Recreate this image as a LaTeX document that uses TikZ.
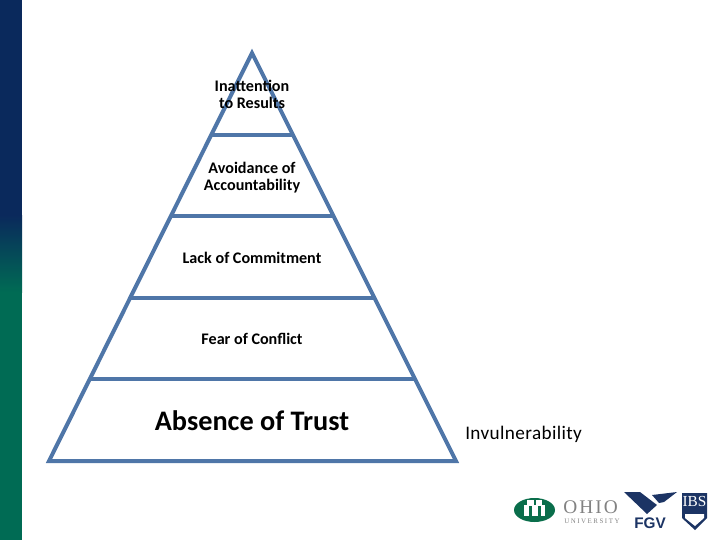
\documentclass[tikz,border=0pt]{standalone}
\usepackage{fontspec}
\setmainfont{Carlito}
\newfontfamily\logoserif{Liberation Serif}
\newfontfamily\logosans{Liberation Sans}
\usepackage{xcolor}
\usetikzlibrary{
  positioning,
  calc
}
\definecolor{pyramidblue}{RGB}{79,118,168}
\definecolor{barnavy}{RGB}{10,41,92}
\definecolor{bargreen}{RGB}{0,107,84}
\definecolor{logogreen}{RGB}{10,110,75}
\definecolor{logonavy}{RGB}{28,52,100}
\definecolor{logogray}{RGB}{130,130,130}

\begin{document}
\begin{tikzpicture}[
  x=0.75pt,y=-0.75pt,
  wall/.style={draw=pyramidblue,line width=3pt,line join=miter},
  tier/.style={draw=pyramidblue,line width=3pt},
  level/.style={align=center,font=\bfseries\fontsize{12.1}{12.8}\selectfont,inner sep=0pt},
  logotext/.style={inner sep=0pt,text=logogray},
]
\useasboundingbox (0,0) rectangle (720,540);

% side bar
\fill[barnavy] (0,0) rectangle (22,215);
\shade[top color=barnavy,bottom color=bargreen] (0,215) rectangle (22,292);
\fill[bargreen] (0,292) rectangle (22,540);

% pyramid
\coordinate (apex) at (252,53);
\coordinate (baseL) at (49,461);
\coordinate (baseR) at (456,461);
\coordinate (t1L) at (212,135);
\coordinate (t1R) at (293,135);
\coordinate (t2L) at (172,216);
\coordinate (t2R) at (333,216);
\coordinate (t3L) at (131,298);
\coordinate (t3R) at (374,298);
\coordinate (t4L) at (90,379);
\coordinate (t4R) at (414,379);
\draw[wall] (apex) -- (baseL) -- (baseR) -- cycle;
\draw[tier] (t1L) -- (t1R);
\draw[tier] (t2L) -- (t2R);
\draw[tier] (t3L) -- (t3R);
\draw[tier] (t4L) -- (t4R);

\node[level] (results) at (252,94.5) {Inattention\\to Results};
\node[level] (account) at (252,177.5) {Avoidance of\\Accountability};
\node[level] (commit) at (252,258) {Lack of Commitment};
\node[level] (conflict) at (252,339) {Fear of Conflict};
\node[level,font=\bfseries\fontsize{21.2}{24}\selectfont] (trust) at (252,421) {Absence of Trust};
\node[inner sep=0pt,font=\fontsize{14.4}{17}\selectfont,anchor=west] (invuln) at (465,434.5) {\addfontfeature{LetterSpace=2}Invulnerability};

% logos
\fill[logogreen] (534.5,510) ellipse (20.5 and 12);
\fill[white] (524,505) rectangle (545,516);
\fill[white] (527,500) rectangle (542,505);
\fill[logogreen] (529,506) rectangle (532,516);
\fill[logogreen] (538,506) rectangle (541,516);
\fill[logogreen] (534,499) rectangle (536,505);
\node[logotext,font=\logoserif\fontsize{14.5}{15}\selectfont\addfontfeature{LetterSpace=11},anchor=west] (ohio) at (563,507.5) {OHIO};
\node[logotext,font=\logoserif\fontsize{5.2}{6}\selectfont\addfontfeature{LetterSpace=22},anchor=west] (univ) at (564,521.5) {UNIVERSITY};
\fill[logonavy] (624,492) -- (640,492) -- (657,505) -- (647,514) -- cycle;
\fill[logonavy] (652,495) -- (677,492) -- (664,502) -- (659,503) -- cycle;
\node[inner sep=0pt,text=logonavy,font=\logosans\bfseries\fontsize{11.5}{12}\selectfont] (fgv) at (650,523.5) {FGV};
\fill[logonavy] (682,493) -- (707,493) -- (707,518) -- (695,530) -- (682,518) -- cycle;
\node[inner sep=0pt,text=white,font=\logoserif\fontsize{11.5}{12}\selectfont] (ibs) at (694.5,501) {IBS};
\fill[white] (685,514) -- (704,514) -- (704,518) -- (695,526) -- (685,518) -- cycle;
\end{tikzpicture}
\end{document}
